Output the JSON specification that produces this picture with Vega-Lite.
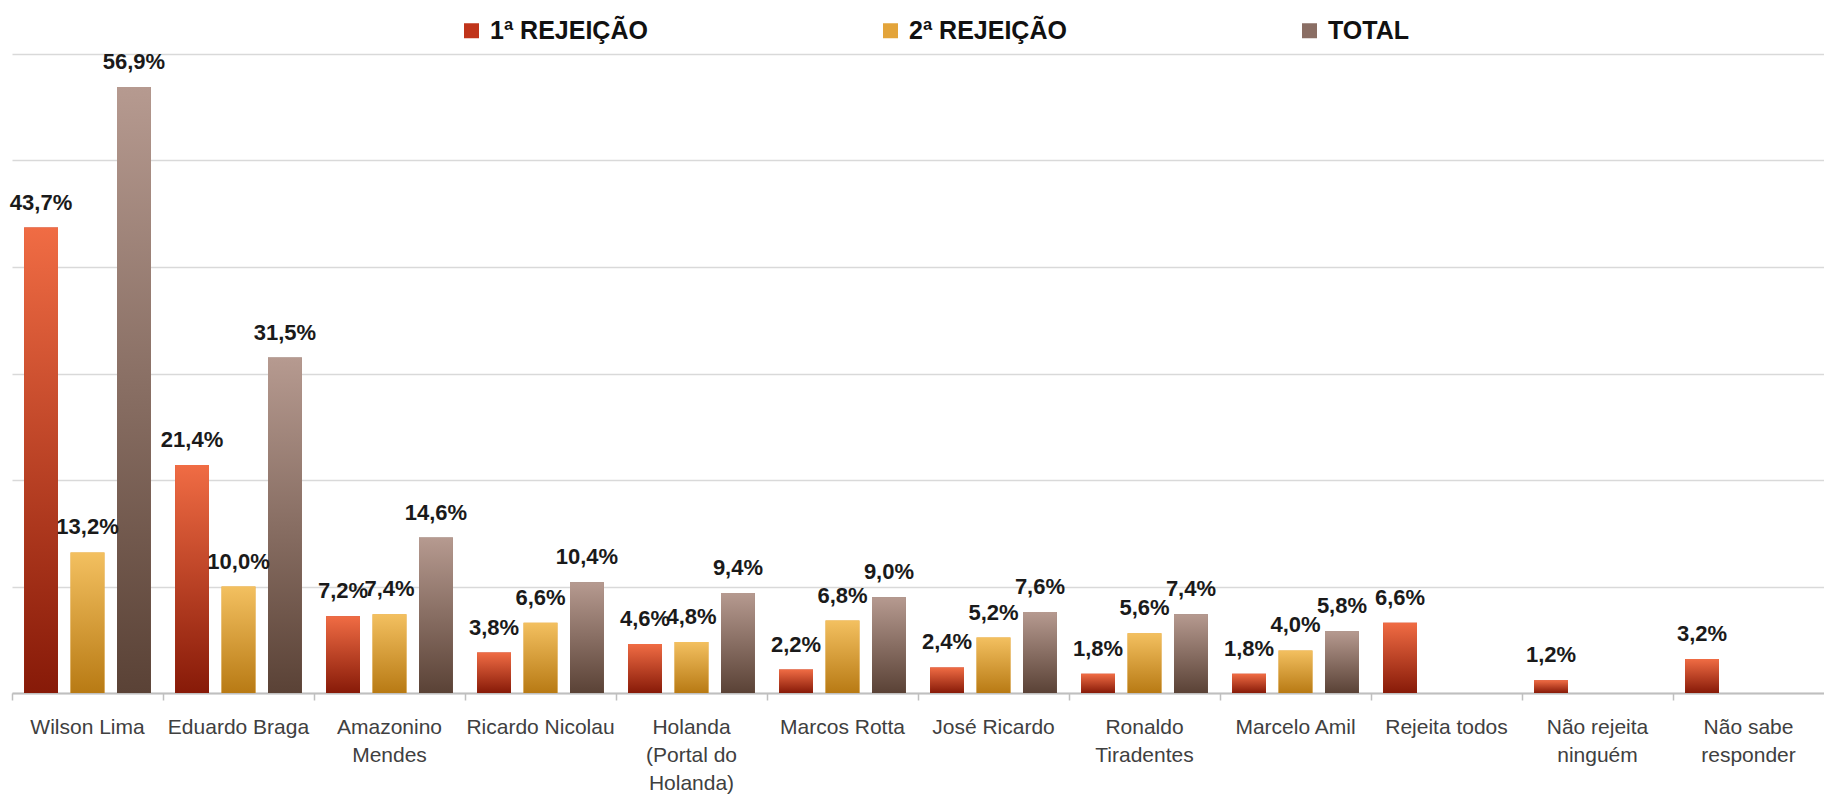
{
  "$schema": "https://vega.github.io/schema/vega-lite/v6.json",
  "width": 1812,
  "height": 639,
  "autosize": {"type": "none"},
  "padding": {"left": 12, "top": 54, "right": 0, "bottom": 103},
  "background": "white",
  "config": {"view": {"stroke": null}, "font": "Liberation Sans"},
  "data": {
    "values": [
      {"candidato": "Wilson Lima", "serie": "1ª REJEIÇÃO", "valor": 43.7},
      {"candidato": "Wilson Lima", "serie": "2ª REJEIÇÃO", "valor": 13.2},
      {"candidato": "Wilson Lima", "serie": "TOTAL", "valor": 56.9},
      {"candidato": "Eduardo Braga", "serie": "1ª REJEIÇÃO", "valor": 21.4},
      {"candidato": "Eduardo Braga", "serie": "2ª REJEIÇÃO", "valor": 10.0},
      {"candidato": "Eduardo Braga", "serie": "TOTAL", "valor": 31.5},
      {"candidato": "Amazonino|Mendes", "serie": "1ª REJEIÇÃO", "valor": 7.2},
      {"candidato": "Amazonino|Mendes", "serie": "2ª REJEIÇÃO", "valor": 7.4},
      {"candidato": "Amazonino|Mendes", "serie": "TOTAL", "valor": 14.6},
      {"candidato": "Ricardo Nicolau", "serie": "1ª REJEIÇÃO", "valor": 3.8},
      {"candidato": "Ricardo Nicolau", "serie": "2ª REJEIÇÃO", "valor": 6.6},
      {"candidato": "Ricardo Nicolau", "serie": "TOTAL", "valor": 10.4},
      {"candidato": "Holanda|(Portal do|Holanda)", "serie": "1ª REJEIÇÃO", "valor": 4.6},
      {"candidato": "Holanda|(Portal do|Holanda)", "serie": "2ª REJEIÇÃO", "valor": 4.8},
      {"candidato": "Holanda|(Portal do|Holanda)", "serie": "TOTAL", "valor": 9.4},
      {"candidato": "Marcos Rotta", "serie": "1ª REJEIÇÃO", "valor": 2.2},
      {"candidato": "Marcos Rotta", "serie": "2ª REJEIÇÃO", "valor": 6.8},
      {"candidato": "Marcos Rotta", "serie": "TOTAL", "valor": 9.0},
      {"candidato": "José Ricardo", "serie": "1ª REJEIÇÃO", "valor": 2.4},
      {"candidato": "José Ricardo", "serie": "2ª REJEIÇÃO", "valor": 5.2},
      {"candidato": "José Ricardo", "serie": "TOTAL", "valor": 7.6},
      {"candidato": "Ronaldo|Tiradentes", "serie": "1ª REJEIÇÃO", "valor": 1.8},
      {"candidato": "Ronaldo|Tiradentes", "serie": "2ª REJEIÇÃO", "valor": 5.6},
      {"candidato": "Ronaldo|Tiradentes", "serie": "TOTAL", "valor": 7.4},
      {"candidato": "Marcelo Amil", "serie": "1ª REJEIÇÃO", "valor": 1.8},
      {"candidato": "Marcelo Amil", "serie": "2ª REJEIÇÃO", "valor": 4.0},
      {"candidato": "Marcelo Amil", "serie": "TOTAL", "valor": 5.8},
      {"candidato": "Rejeita todos", "serie": "1ª REJEIÇÃO", "valor": 6.6},
      {"candidato": "Não rejeita|ninguém", "serie": "1ª REJEIÇÃO", "valor": 1.2},
      {"candidato": "Não sabe|responder", "serie": "1ª REJEIÇÃO", "valor": 3.2}
    ]
  },
  "transform": [
    {"calculate": "replace(format(datum.valor, '.1f'), '.', ',') + '%'", "as": "rotulo"}
  ],
  "encoding": {
    "x": {
      "field": "candidato",
      "type": "nominal",
      "sort": null,
      "scale": {"paddingInner": 0, "paddingOuter": 0},
      "axis": {
        "title": null,
        "labelAngle": 0,
        "bandPosition": 0,
        "labelOffset": 0,
        "labelExpr": "split(datum.label, '|')",
        "labelFont": "Liberation Sans",
        "labelFontSize": 21,
        "labelColor": "#404040",
        "labelLineHeight": 28,
        "labelPadding": 16,
        "labelBaseline": "top",
        "labelAlign": "center",
        "labelLimit": 400,
        "domainColor": "#BFBFBF",
        "domainWidth": 2,
        "tickColor": "#BFBFBF",
        "tickWidth": 1.5,
        "tickSize": 7,
        "grid": false
      }
    },
    "xOffset": {
      "field": "serie",
      "type": "nominal",
      "scale": {"domain": ["1ª REJEIÇÃO", "2ª REJEIÇÃO", "TOTAL"], "paddingInner": 0.27, "paddingOuter": 0.26}
    },
    "y": {
      "field": "valor",
      "type": "quantitative",
      "scale": {"domain": [0, 60], "nice": false},
      "axis": {
        "title": null,
        "labels": false,
        "ticks": false,
        "domain": false,
        "values": [0, 10, 20, 30, 40, 50, 60],
        "grid": true,
        "gridColor": "#D9D9D9",
        "gridWidth": 1.5
      }
    }
  },
  "layer": [
    {
      "mark": {"type": "bar"},
      "encoding": {
        "color": {
          "field": "serie",
          "type": "nominal",
          "scale": {"domain": ["1ª REJEIÇÃO", "2ª REJEIÇÃO", "TOTAL"], "range": ["#C0341A", "#E3A43A", "#8A6E64"]},
          "legend": {
            "title": null,
            "orient": "none",
            "legendX": 447,
            "legendY": -36,
            "direction": "horizontal",
            "columnPadding": 230,
            "padding": 0,
            "symbolType": "square",
            "symbolSize": 225,
            "symbolStrokeWidth": 0,
            "labelFont": "Liberation Sans",
            "labelFontSize": 25,
            "labelFontWeight": "bold",
            "labelColor": "#111111",
            "labelOffset": 6,
            "labelLimit": 400
          }
        }
      }
    },
    {
      "mark": {"type": "bar"},
      "encoding": {
        "color": {
          "condition": [
            {"test": "datum.serie === '1ª REJEIÇÃO'", "value": {"gradient": "linear", "x1": 0, "y1": 0, "x2": 0, "y2": 1, "stops": [{"offset": 0, "color": "#F06C44"}, {"offset": 1, "color": "#871A08"}]}},
            {"test": "datum.serie === '2ª REJEIÇÃO'", "value": {"gradient": "linear", "x1": 0, "y1": 0, "x2": 0, "y2": 1, "stops": [{"offset": 0, "color": "#F3C060"}, {"offset": 1, "color": "#B87A14"}]}}
          ],
          "value": {"gradient": "linear", "x1": 0, "y1": 0, "x2": 0, "y2": 1, "stops": [{"offset": 0, "color": "#B69A90"}, {"offset": 1, "color": "#5A4236"}]}
        }
      }
    },
    {
      "mark": {
        "type": "text",
        "font": "Liberation Sans",
        "fontSize": 22,
        "fontWeight": "bold",
        "color": "#1A1A1A",
        "baseline": "alphabetic",
        "align": "center",
        "dy": -18
      },
      "encoding": {"text": {"field": "rotulo", "type": "nominal"}}
    }
  ]
}
